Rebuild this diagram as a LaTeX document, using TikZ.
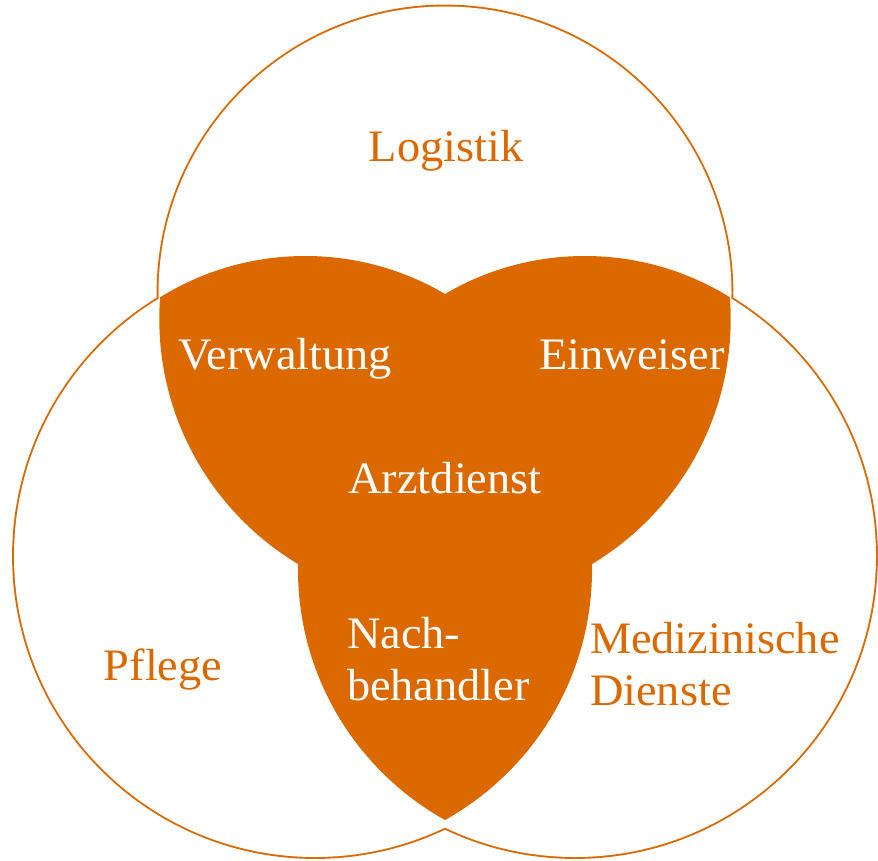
\documentclass[tikz,border=0pt]{standalone}
\usepackage{fontspec}
\setmainfont[FakeStretch=1.03]{Liberation Serif}
\usetikzlibrary{positioning}
\definecolor{venn}{RGB}{220,105,0}

\begin{document}
\begin{tikzpicture}[x=1pt,y=-1pt,every node/.style={inner sep=0pt,outer sep=0pt}]
\tikzstyle{rim}=[draw=venn,line width=3.8pt]
\tikzstyle{lobe}=[fill=venn]
\tikzstyle{word}=[font=\fontsize{45}{52}\selectfont]
\tikzstyle{outword}=[word,text=venn]
\tikzstyle{inword}=[word,text=white]

\useasboundingbox (0,0) rectangle (878,860);

% outer rim of the three circles
\draw [rim] (445,293) circle (286.5) (315,556) circle (301) (575,556) circle (301);
\fill [white] (445,293) circle (286.5) (315,556) circle (301) (575,556) circle (301);

% filled overlaps
\begin{scope}
\clip (305.3,531.8) circle (275.8);
\fill [lobe] (445,319) circle (285.7);
\end{scope}
\begin{scope}
\clip (584.7,531.8) circle (275.8);
\fill [lobe] (445,319) circle (285.7);
\end{scope}
\begin{scope}
\clip (305.5,569.7) circle (286.5);
\fill [lobe] (584.5,569.7) circle (286.5);
\end{scope}

\node (logistik) [outword,anchor=base] at (446,161) {Logistik};
\node (pflege) [outword,anchor=base] at (163,680) {Pflege};
\node (medizin) [outword,anchor=base west] at (590,653) {Medizinische};
\node (dienste) [outword,anchor=base west] at ([yshift=-52pt]medizin.base west) {Dienste};

\node (verwaltung) [inword,anchor=base] at (285,369) {Verwaltung};
\node (einweiser) [inword,anchor=base] at (632,369) {Einweiser};
\node (arzt) [inword,anchor=base] at (445,493) {Arztdienst};
\node (nach) [inword,anchor=base west] at (347,648) {Nach-};
\node (behandler) [inword,anchor=base west] at ([yshift=-52pt]nach.base west) {behandler};
\end{tikzpicture}
\end{document}
